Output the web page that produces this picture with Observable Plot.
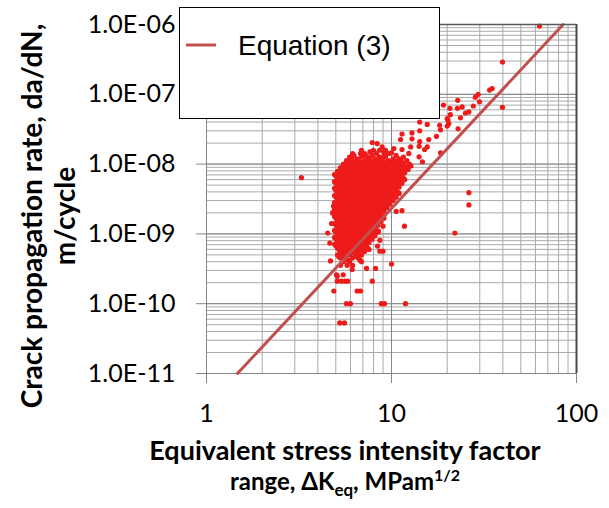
<!DOCTYPE html>
<html><head><meta charset="utf-8">
<script src="https://cdn.jsdelivr.net/npm/d3@7"></script>
<script src="https://cdn.jsdelivr.net/npm/@observablehq/plot@0.6"></script>
<style>body{margin:0;background:#fff} svg{display:block}</style>
</head><body><div id="chart"></div>
<script>
// ---- axis ticks & labels ----
const xTicks = [1, 10, 100];
const xTickLabels = ["1", "10", "100"];
const yTicks = [1e-11, 1e-10, 1e-9, 1e-8, 1e-7, 1e-6];
const yTickLabels = ["1.0E-11", "1.0E-10", "1.0E-09", "1.0E-08", "1.0E-07", "1.0E-06"];
const xTitleLine1 = "Equivalent stress intensity factor";
const xTitleLine2 = ["range, ΔK", "eq", ", MPam", "1/2"];
const yTitleLines = ["Crack propagation rate, da/dN,", "m/cycle"];
const legendLabel = "Equation (3)";

// ---- Equation (3) line (end points) ----
const eqDK = [1.47, 84.7];
const eqRate = [1e-11, 1e-6];

// ---- scattered measurements ----
const outlierDK = [63.1, 39.8, 39.8, 35.0, 33.9, 29.4, 28.4, 29.9, 27.7, 26.2, 25.1, 24.1, 22.8, 22.7, 20.7, 19.1, 23.6, 20.8, 20.2, 20.0, 22.9, 18.2, 15.6, 14.2, 18.4, 11.4, 12.9, 14.2, 11.2, 12.9, 14.2, 15.9, 17.5, 12.7, 14.1, 15.6, 15.1, 18.4, 11.4, 7.87, 8.37, 7.64, 8.9, 9.08, 10.0, 6.8, 10.3, 12.4, 14.1, 14.7, 20.0, 20.4,
  10.6, 11.4, 11.75, 9.0, 26.2, 26.2, 22.0, 3.26, 8.5,
  4.52, 4.64, 4.68, 8.65, 8.4, 8.65, 9.0, 10.0, 8.2, 7.33, 6.8, 5.09, 5.48, 5.04, 5.09, 5.35, 5.6, 5.8, 4.88, 6.52, 6.8, 7.87, 5.71, 6.0, 8.8, 9.17, 11.9, 5.25, 5.57, 6.13, 5.76];
const outlierRate = [9.5e-7, 2.9e-7, 6.5e-8, 1.21e-7, 1.15e-7, 1.0e-7, 9.1e-8, 7.8e-8, 6.8e-8, 5.6e-8, 5.4e-8, 6.6e-8, 8.2e-8, 6.3e-8, 6.3e-8, 7.0e-8, 4.6e-8, 5.1e-8, 4.3e-8, 3.5e-8, 3.2e-8, 3.6e-8, 3.7e-8, 4.0e-8, 3.1e-8, 2.7e-8, 2.8e-8, 3.0e-8, 2.25e-8, 2.3e-8, 2.1e-8, 2.25e-8, 2.5e-8, 1.76e-8, 1.8e-8, 1.76e-8, 1.62e-8, 1.45e-8, 1.62e-8, 2.04e-8, 1.97e-8, 1.5e-8, 1.76e-8, 1.5e-8, 1.45e-8, 1.42e-8, 1.67e-8, 1.42e-8, 1.27e-8, 1.08e-8, 4.5e-8, 3.8e-8,
  2.1e-9, 2.15e-9, 1.29e-9, 1.29e-9, 3.9e-9, 2.6e-9, 1.03e-9, 6.4e-9, 1.1e-9,
  1.03e-9, 7.4e-10, 4.1e-10, 8.1e-10, 6.7e-10, 5.65e-10, 5.65e-10, 3.7e-10, 3.2e-10, 3.2e-10, 5.5e-10, 2.48e-10, 2.6e-10, 2.6e-10, 2.1e-10, 2.1e-10, 2.1e-10, 2.1e-10, 1.52e-10, 1.52e-10, 1.52e-10, 2.1e-10, 1.0e-10, 1.0e-10, 1.0e-10, 1.0e-10, 1.0e-10, 5.3e-11, 5.3e-11, 3.1e-10, 3.55e-10];

// ---- dense cluster: one rate per row, ΔK values in that row ----
const clusterRate = [1.58e-8, 1.41e-8, 1.33e-8, 1.26e-8, 1.19e-8, 1.12e-8, 1.06e-8, 1.0e-8,
  9.4e-9, 8.9e-9, 8.4e-9, 7.9e-9, 7.5e-9, 7.1e-9, 6.7e-9, 6.3e-9, 6.0e-9, 5.6e-9, 5.3e-9, 5.0e-9,
  4.7e-9, 4.5e-9, 4.2e-9, 4.0e-9, 3.8e-9, 3.55e-9, 3.35e-9, 3.2e-9, 3.0e-9, 2.8e-9, 2.66e-9, 2.5e-9,
  2.37e-9, 2.24e-9, 2.11e-9, 2.0e-9, 1.88e-9, 1.78e-9, 1.68e-9, 1.58e-9, 1.5e-9, 1.41e-9, 1.33e-9,
  1.26e-9, 1.19e-9, 1.12e-9, 1.06e-9, 1.0e-9, 9.4e-10, 8.9e-10, 8.4e-10, 7.9e-10, 7.5e-10, 7.1e-10,
  6.7e-10, 6.3e-10, 6.0e-10, 5.6e-10, 5.3e-10, 5.0e-10, 4.7e-10, 4.5e-10, 4.2e-10, 4.0e-10, 3.55e-10];
const clusterDK = [
  [6.88, 7.99, 8.61, 9.28],
  [6.16, 7.15, 8.30, 9.63],
  [6.27, 7.28, 7.85, 9.11, 10.6],
  [5.93, 6.88, 7.42, 8.61, 9.28, 11.6],
  [6.04, 6.51, 7.56, 8.14, 8.77, 10.2, 11.0],
  [5.71, 6.16, 6.63, 7.15, 7.70, 8.30, 8.94, 9.63, 10.4, 11.2, 12.1],
  [5.82, 6.27, 6.76, 7.28, 7.85, 8.45, 9.11, 9.81, 10.6, 11.4],
  [5.50, 5.93, 6.39, 6.88, 7.42, 7.99, 8.61, 9.28, 10.0, 10.8, 11.6, 12.5],
  [5.61, 6.04, 6.51, 7.02, 7.56, 8.14, 8.77, 9.46, 10.2, 11.0, 11.8, 12.75],
  [5.30, 5.71, 6.16, 6.63, 7.15, 7.70, 8.30, 8.94, 9.63, 10.4, 11.2, 12.1],
  [5.40, 5.82, 6.27, 6.76, 7.28, 7.85, 8.45, 9.11, 9.81, 10.6, 11.4, 12.3],
  [5.11, 5.50, 5.93, 6.39, 6.88, 7.42, 7.99, 8.61, 9.28, 10.0, 10.8, 11.6],
  [5.20, 5.61, 6.04, 6.51, 7.02, 7.56, 8.14, 8.77, 9.46, 10.2, 11.0, 11.8],
  [4.92, 5.30, 5.71, 6.16, 6.63, 7.15, 7.70, 8.30, 8.94, 9.63, 10.4, 11.2],
  [5.01, 5.40, 5.82, 6.27, 6.76, 7.28, 7.85, 8.45, 9.11, 9.81, 10.6, 11.4],
  [5.11, 5.50, 5.93, 6.39, 6.88, 7.42, 7.99, 8.61, 9.28, 10.0, 10.8, 11.6],
  [5.20, 5.61, 6.04, 6.51, 7.02, 7.56, 8.14, 8.77, 9.46, 10.2, 11.0, 11.8],
  [4.92, 5.30, 5.71, 6.16, 6.63, 7.15, 7.70, 8.30, 8.94, 9.63, 10.4, 11.2],
  [5.01, 5.40, 5.82, 6.27, 6.76, 7.28, 7.85, 8.45, 9.11, 9.81, 10.6, 11.4],
  [5.11, 5.50, 5.93, 6.39, 6.88, 7.42, 7.99, 8.61, 9.28, 10.0, 10.8],
  [5.20, 5.61, 6.04, 6.51, 7.02, 7.56, 8.14, 8.77, 9.46, 10.2, 11.0],
  [4.92, 5.30, 5.71, 6.16, 6.63, 7.15, 7.70, 8.30, 8.94, 9.63, 10.4],
  [5.01, 5.40, 5.82, 6.27, 6.76, 7.28, 7.85, 8.45, 9.11, 9.81, 10.6],
  [5.11, 5.50, 5.93, 6.39, 6.88, 7.42, 7.99, 8.61, 9.28, 10.0, 10.8],
  [5.20, 5.61, 6.04, 6.51, 7.02, 7.56, 8.14, 8.77, 9.46, 10.2, 11.0],
  [4.92, 5.30, 5.71, 6.16, 6.63, 7.15, 7.70, 8.30, 8.94, 9.63, 10.4],
  [5.01, 5.40, 5.82, 6.27, 6.76, 7.28, 7.85, 8.45, 9.11, 9.81, 10.6],
  [5.11, 5.50, 5.93, 6.39, 6.88, 7.42, 7.99, 8.61, 9.28, 10.0],
  [5.20, 5.61, 6.04, 6.51, 7.02, 7.56, 8.14, 8.77, 9.46, 10.2],
  [4.92, 5.30, 5.71, 6.16, 6.63, 7.15, 7.70, 8.30, 8.94, 9.63],
  [5.01, 5.40, 5.82, 6.27, 6.76, 7.28, 7.85, 8.45, 9.11, 9.81],
  [4.86, 5.11, 5.50, 5.93, 6.39, 6.88, 7.42, 7.99, 8.61, 9.28],
  [5.20, 5.61, 6.04, 6.51, 7.02, 7.56, 8.14, 8.77, 9.46],
  [4.92, 5.30, 5.71, 6.16, 6.63, 7.15, 7.70, 8.30, 8.94],
  [5.01, 5.40, 5.82, 6.27, 6.76, 7.28, 7.85, 8.45, 9.11],
  [4.80, 5.11, 5.50, 5.93, 6.39, 6.88, 7.42, 7.99, 8.61],
  [5.20, 5.61, 6.04, 6.51, 7.02, 7.56, 8.14, 8.77],
  [4.92, 5.30, 5.71, 6.16, 6.63, 7.15, 7.70, 8.30, 8.94],
  [5.01, 5.40, 5.82, 6.27, 6.76, 7.28, 7.85, 8.45, 9.11],
  [5.11, 5.50, 5.93, 6.39, 6.88, 7.42, 7.99, 8.61],
  [5.20, 5.61, 6.04, 6.51, 7.02, 7.56, 8.14, 8.77],
  [4.74, 4.92, 5.30, 5.71, 6.16, 6.63, 7.15, 7.70, 8.30],
  [5.01, 5.40, 5.82, 6.27, 6.76, 7.28, 7.85, 8.45],
  [5.11, 5.50, 5.93, 6.39, 6.88, 7.42, 7.99],
  [5.20, 5.61, 6.04, 6.51, 7.02, 7.56, 8.14],
  [4.92, 5.30, 5.71, 6.16, 6.63, 7.15, 7.70, 8.30],
  [5.01, 5.40, 5.82, 6.27, 6.76, 7.28, 7.85, 8.45],
  [5.11, 5.50, 5.93, 6.39, 6.88, 7.42, 7.99],
  [5.20, 5.61, 6.04, 6.51, 7.02, 7.56, 8.14],
  [4.92, 5.30, 5.71, 6.16, 6.63, 7.15, 7.70],
  [5.01, 5.40, 5.82, 6.27, 6.76, 7.28, 7.85],
  [5.11, 5.50, 5.93, 6.39, 6.88, 7.42],
  [5.20, 5.61, 6.04, 6.51, 7.02, 7.56],
  [4.92, 5.30, 5.71, 6.16, 6.63, 7.15],
  [5.01, 5.40, 5.82, 6.27, 6.76, 7.28],
  [5.11, 5.50, 5.93, 6.39, 6.88, 7.42],
  [5.20, 5.61, 6.04, 6.51, 7.02, 7.56],
  [5.30, 5.71, 6.16, 6.63, 7.15],
  [5.40, 6.27, 6.76],
  [5.11, 5.50, 5.93, 6.39, 6.88],
  [5.20, 5.61, 6.51],
  [5.30, 6.16, 6.63],
  [5.82, 6.76],
  [5.50, 5.93, 6.88],
  [5.30, 6.16]
];

// ---- build tables ----
const points = clusterRate.flatMap((r, i) => clusterDK[i].map(dk => ({dk, rate: r})))
  .concat(outlierDK.map((dk, i) => ({dk, rate: outlierRate[i]})));
const eqLine = eqDK.map((dk, i) => ({dk, rate: eqRate[i]}));
const xGrid = d3.scaleLog().domain([1, 100]).ticks();
const yGrid = d3.scaleLog().domain([1e-11, 1e-6]).ticks();

const majorGrid = "#858585", minorGrid = "#a9a9a9";

const plot = Plot.plot({
  width: 609, height: 508,
  marginLeft: 206, marginRight: 33, marginTop: 24, marginBottom: 135,
  x: {type: "log", domain: [1, 100]},
  y: {type: "log", domain: [1e-11, 1e-6]},
  style: {fontFamily: "Lato, sans-serif", fontSize: "25px", color: "#000", background: "#fff"},
  marks: [
    Plot.ruleX(xGrid, {stroke: minorGrid, strokeWidth: 1}),
    Plot.ruleY(yGrid, {stroke: minorGrid, strokeWidth: 1}),
    Plot.ruleX(xTicks, {stroke: majorGrid, strokeWidth: 1}),
    Plot.ruleY(yTicks, {stroke: majorGrid, strokeWidth: 1}),
    Plot.axisX(xTicks, {tickSize: 10, tickPadding: 21, stroke: majorGrid, fill: "#000", fontSize: 25,
      tickFormat: d => xTickLabels[xTicks.indexOf(d)], label: null}),
    Plot.axisY(yTicks, {tickSize: 10, tickPadding: 21, stroke: majorGrid, fill: "#000", fontSize: 25,
      tickFormat: d => yTickLabels[yTicks.indexOf(d)], label: null}),
    Plot.dot(points, {x: "dk", y: "rate", r: 2.6, fill: "#ee1b1b", stroke: "none"}),
    Plot.line(eqLine, {x: "dk", y: "rate", stroke: "#c0504d", strokeWidth: 3}),
    Plot.ruleX([100], {stroke: "#4a4a4a", strokeWidth: 2}),
    Plot.ruleY([1e-6], {stroke: "#5a5a5a", strokeWidth: 1.5})
  ]
});
document.getElementById("chart").appendChild(plot);

const svg = d3.select(plot);
// y-axis title
const yt = svg.append("text")
  .attr("transform", "translate(42,216) rotate(-90)")
  .attr("text-anchor", "middle")
  .attr("font-family", "Lato, sans-serif").attr("font-weight", "bold").attr("font-size", 28).attr("fill", "#000");
yt.append("tspan").attr("x", 0).attr("y", 0).text(yTitleLines[0]);
yt.append("tspan").attr("x", 0).attr("y", 33).text(yTitleLines[1]);

// x-axis title
const xt = svg.append("text")
  .attr("text-anchor", "middle")
  .attr("font-family", "Lato, sans-serif").attr("font-weight", "bold").attr("fill", "#000");
xt.append("tspan").attr("x", 345).attr("y", 460).attr("font-size", 27).text(xTitleLine1);
const l2 = xt.append("tspan").attr("x", 345).attr("y", 490).attr("font-size", 24);
l2.append("tspan").text(xTitleLine2[0]);
l2.append("tspan").attr("font-size", 17).attr("dy", 6).text(xTitleLine2[1]);
l2.append("tspan").attr("dy", -6).text(xTitleLine2[2]);
l2.append("tspan").attr("font-size", 16).attr("dy", -9).text(xTitleLine2[3]);

// legend
const lg = svg.append("g").attr("text-anchor", "start");
lg.append("rect").attr("x", 179.5).attr("y", 7.5).attr("width", 260).attr("height", 111)
  .attr("fill", "#fff").attr("stroke", "#000").attr("stroke-width", 1);
lg.append("line").attr("x1", 186).attr("x2", 216).attr("y1", 45).attr("y2", 45)
  .attr("stroke", "#c0504d").attr("stroke-width", 3);
lg.append("text").attr("x", 238).attr("y", 55).attr("text-anchor", "start")
  .attr("font-family", "'Liberation Sans', Arial, sans-serif").attr("font-size", 28).attr("fill", "#000")
  .text(legendLabel);
</script>
</body></html>
